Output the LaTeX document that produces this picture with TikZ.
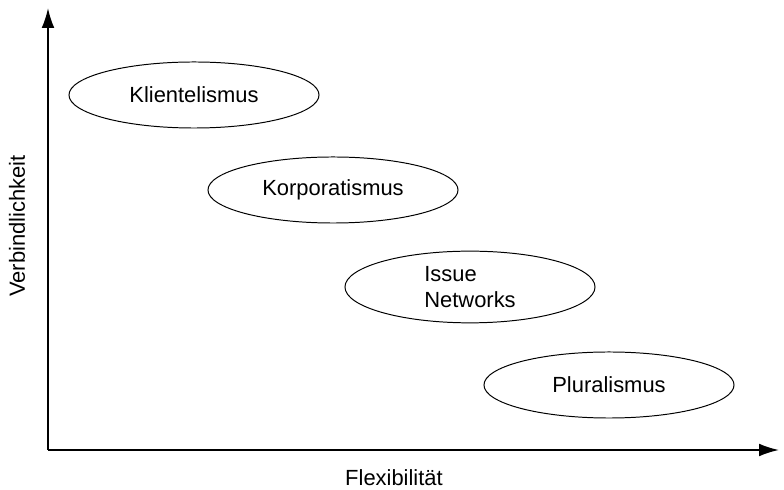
\documentclass[tikz,border=0pt]{standalone}
\usepackage{fontspec}
\setmainfont{Liberation Sans}
\usetikzlibrary{shapes.geometric,arrows.meta}
\tikzset{every node/.style={font=\fontsize{15.6}{18.5}\selectfont},
         schema/.style={draw,ellipse,line width=0.7pt,
                        minimum width=6.25cm,minimum height=1.65cm},
         achse/.style={line width=1.3pt,-{Latex[length=5mm,width=3.2mm]}},
         x=0.025cm,y=-0.025cm}

\begin{document}
\begin{tikzpicture}
      \useasboundingbox (0,0) rectangle (784,490);
      \coordinate (ursprung) at (48,450);
      \coordinate (oben) at (48,8);
      \coordinate (rechts) at (779,450);
      \draw[achse] (ursprung) -- (oben);
      \draw[achse] (ursprung) -- (rechts);
      \node[rotate=90] (verb) at (17,226) {Verbindlichkeit};
      \node (flex) at (394,478) {Flexibilität};
      % Netzwerktypen
      \node[schema] (klient) at (194,95) {Klientelismus};
      \node[schema] (korp) at (333,190) {Korporatismus};
      \node[schema,align=left] (issue) at (470,287) {Issue\\Networks};
      \node[schema] (plural) at (609,385) {Pluralismus};
\end{tikzpicture}
\end{document}
